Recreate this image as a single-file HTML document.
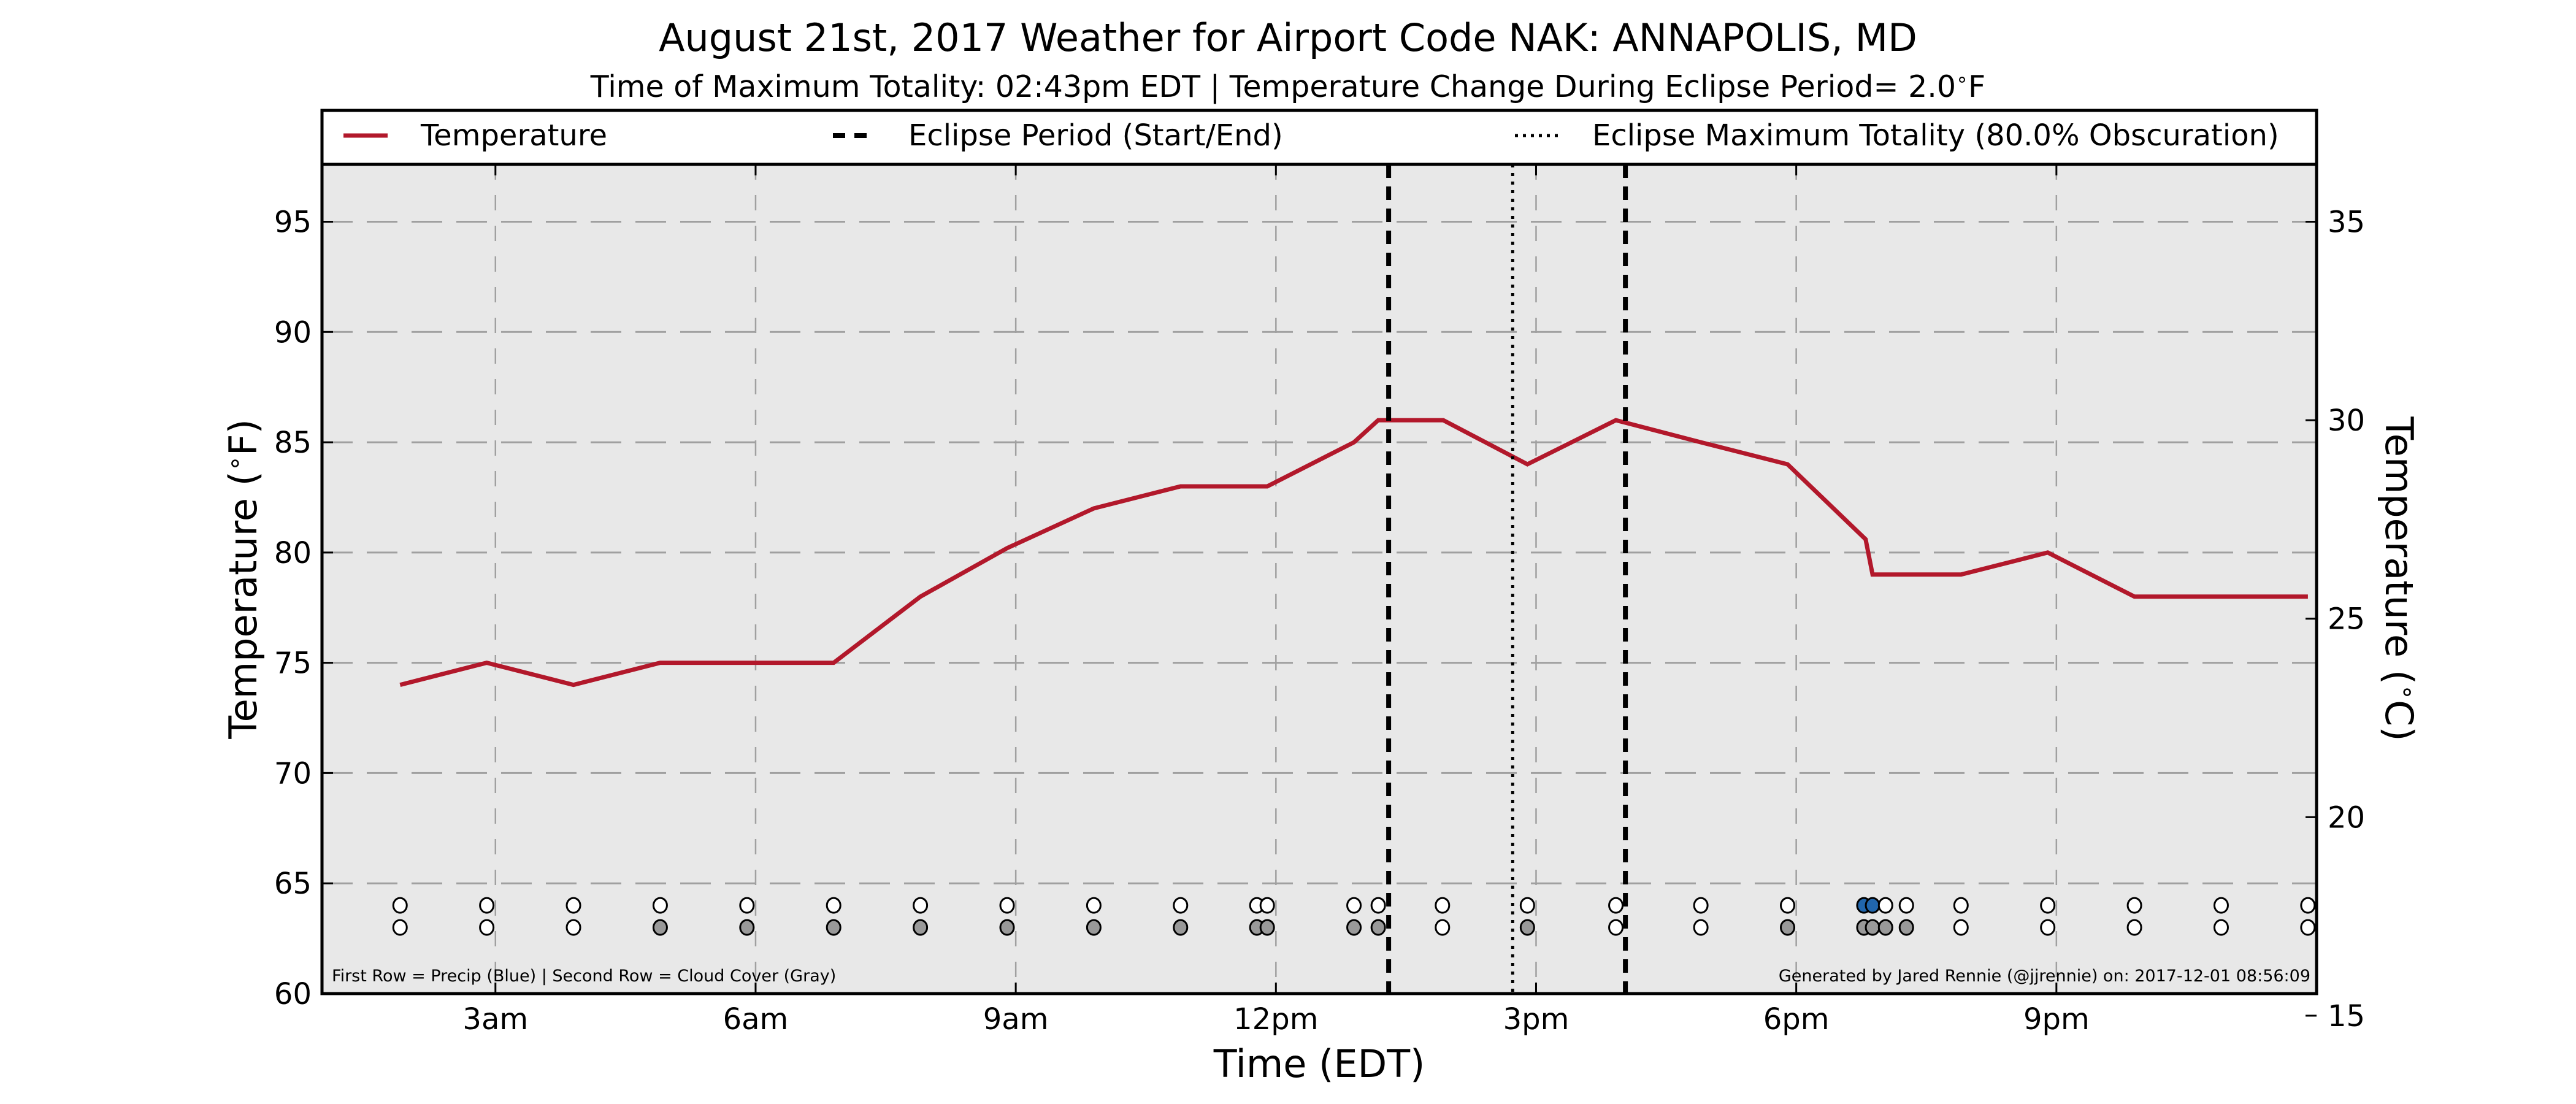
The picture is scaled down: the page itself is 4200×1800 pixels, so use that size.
<!DOCTYPE html>
<html><head><meta charset="utf-8"><style>
html,body{margin:0;padding:0;background:#fff}
svg{display:block;font-family:"DejaVu Sans","Liberation Sans",sans-serif}
</style></head><body>
<svg id="chart" width="4200" height="1800" viewBox="0 0 4200 1800" xmlns="http://www.w3.org/2000/svg">
<rect x="0" y="0" width="4200" height="1800" fill="#fff"/>
<text x="2100" y="83" font-size="62" text-anchor="middle">August 21st, 2017 Weather for Airport Code NAK: ANNAPOLIS, MD</text>
<text x="2100" y="158" font-size="49" text-anchor="middle">Time of Maximum Totality: 02:43pm EDT | Temperature Change During Eclipse Period= 2.0<tspan dy="-18" font-size="32">∘</tspan><tspan dy="18">F</tspan></text>
<rect x="525" y="268" width="3252" height="1352" fill="#e8e8e8"/>
<g id="grid"></g>
<g id="marks"></g>
<g id="axes"></g>
<rect x="525" y="180" width="3252" height="88" fill="#fff" stroke="#000" stroke-width="5"/>
<g>
<line x1="560" y1="221" x2="632" y2="221" stroke="#b2182b" stroke-width="7"/>
<text x="686" y="237" font-size="48">Temperature</text></g>
<g>
<line x1="1358" y1="221" x2="1428" y2="221" stroke="#000" stroke-width="8" stroke-dasharray="20 15"/>
<text x="1481" y="237" font-size="48">Eclipse Period (Start/End)</text></g>
<g>
<line x1="2470" y1="221" x2="2540" y2="221" stroke="#000" stroke-width="5" stroke-dasharray="5 8"/>
<text x="2596" y="237" font-size="48">Eclipse Maximum Totality (80.0% Obscuration)</text></g>
<text x="541" y="1600" font-size="27">First Row = Precip (Blue) | Second Row = Cloud Cover (Gray)</text>
<text x="3767" y="1600" font-size="27" text-anchor="end">Generated by Jared Rennie (@jjrennie) on: 2017-12-01 08:56:09</text>
<text x="2151" y="1756" font-size="62" text-anchor="middle">Time (EDT)</text>
<text transform="translate(418,944) rotate(-90)" font-size="62" text-anchor="middle">Temperature (<tspan dy="-22" font-size="40">∘</tspan><tspan dy="22">F)</tspan></text>
<text transform="translate(3890,944) rotate(90)" font-size="62" text-anchor="middle">Temperature (<tspan dy="-22" font-size="40">∘</tspan><tspan dy="22">C)</tspan></text>
</svg>
<script>
// data (hours since midnight EDT)
const tempTimes=[1.9,2.9,3.9,4.9,5.9,6.9,7.9,8.9,9.9,10.9,11.9,12.9,13.18,13.93,14.9,15.92,16.9,17.9,18.8,18.88,19.9,20.9,21.9,22.9,23.9];
const tempValues=[74,75,74,75,75,75,78,80.2,82,83,83,85,86,86,84,86,85,84,80.6,79,79,80,78,78,78];
const obsTimes=[1.9,2.9,3.9,4.9,5.9,6.9,7.9,8.9,9.9,10.9,11.78,11.9,12.9,13.18,13.92,14.9,15.92,16.9,17.9,18.78,18.88,19.03,19.27,19.9,20.9,21.9,22.9,23.9];
const precipFlags=[0,0,0,0,0,0,0,0,0,0,0,0,0,0,0,0,0,0,0,1,1,0,0,0,0,0,0,0];
const cloudFlags=[0,0,0,1,1,1,1,1,1,1,1,1,1,1,0,1,0,0,1,1,1,1,1,0,0,0,0,0];
const eclipseTimes=[13.3,16.03];
const maxTotalityTime=14.73;
const xTickHours=[3,6,9,12,15,18,21];
const xTickLabels=["3am","6am","9am","12pm","3pm","6pm","9pm"];
const yTicksF=[60,65,70,75,80,85,90,95];
const yTicksC=[15,20,25,30,35];

const NS="http://www.w3.org/2000/svg";
const L=525,R=3777,T=268,B=1620,XMIN=1,XMAX=24,YMIN=60,YMAX=97.6;
const xs=h=>L+(h-XMIN)/(XMAX-XMIN)*(R-L);
const ys=f=>B-(f-YMIN)/(YMAX-YMIN)*(B-T);
function mk(tag,attrs,parent){const e=document.createElementNS(NS,tag);for(const k in attrs)e.setAttribute(k,attrs[k]);parent.appendChild(e);return e;}
const grid=document.getElementById('grid'),marks=document.getElementById('marks'),axes=document.getElementById('axes');

xTickHours.forEach((h,i)=>{
  const x=xs(h);
  const g=mk('line',{x1:x,y1:T,x2:x,y2:B,stroke:'#a0a0a0','stroke-width':2.5,'stroke-dasharray':'25 25'},grid);
  
  
  const t1=mk('line',{x1:x,y1:B,x2:x,y2:B-18,stroke:'#000','stroke-width':3},axes);
  
  
  const t2=mk('line',{x1:x,y1:T,x2:x,y2:T+18,stroke:'#000','stroke-width':3},axes);
  
  
  const lb=mk('text',{x:x,y:1678,'font-size':48,'text-anchor':'middle'},axes);
  lb.textContent=xTickLabels[i];
  
  
});
yTicksF.forEach(f=>{
  const y=ys(f);
  if(f>YMIN){const g=mk('line',{x1:L,y1:y,x2:R,y2:y,stroke:'#a0a0a0','stroke-width':3,'stroke-dasharray':'50 23'},grid);
  
  }
  const t=mk('line',{x1:L,y1:y,x2:L+18,y2:y,stroke:'#000','stroke-width':3},axes);
  
  
  const lb=mk('text',{x:508,y:y+17,'font-size':48,'text-anchor':'end'},axes);
  lb.textContent=f;
  
  
});
yTicksC.forEach(c=>{
  const y=ys(c*9/5+32);
  const t=mk('line',{x1:R,y1:y,x2:R-18,y2:y,stroke:'#000','stroke-width':3},axes);
  
  
  const lb=mk('text',{x:3795,y:y+17,'font-size':48},axes);
  lb.textContent=c;
  
  
});
// temperature line
const pts=tempTimes.map((t,i)=>xs(t).toFixed(1)+','+ys(tempValues[i]).toFixed(1)).join(' ');
const pl=mk('polyline',{points:pts,fill:'none',stroke:'#b2182b','stroke-width':7,'stroke-linejoin':'miter'},marks);


// eclipse lines
eclipseTimes.forEach(t=>{
  const l=mk('line',{x1:xs(t),y1:T,x2:xs(t),y2:B,stroke:'#000','stroke-width':8,'stroke-dasharray':'22 14'},marks);
  
  
});
const ml=mk('line',{x1:xs(maxTotalityTime),y1:T,x2:xs(maxTotalityTime),y2:B,stroke:'#000','stroke-width':5,'stroke-dasharray':'5 9'},marks);


// dots
obsTimes.forEach((t,i)=>{
  const p=mk('ellipse',{cx:xs(t),cy:ys(64),rx:11,ry:12,fill:precipFlags[i]?'#2166ac':'#fff',stroke:'#000','stroke-width':3},marks);
  
  
  const c=mk('ellipse',{cx:xs(t),cy:ys(63),rx:11,ry:12,fill:cloudFlags[i]?'#999':'#fff',stroke:'#000','stroke-width':3},marks);
  
  
});
const fr=mk('rect',{x:L,y:T,width:R-L,height:B-T,fill:'none',stroke:'#000','stroke-width':5},axes);


</script>
</body></html>
